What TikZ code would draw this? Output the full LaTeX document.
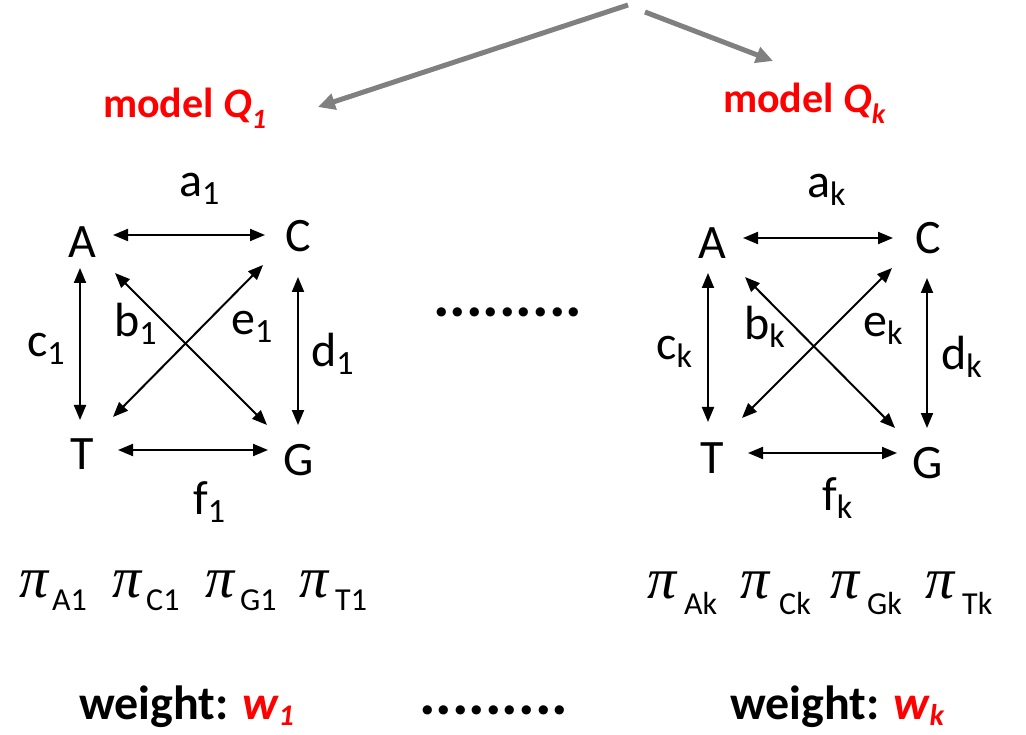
\documentclass[tikz,border=0pt]{standalone}
\usepackage{fontspec}
\setmainfont{Carlito}
\newfontfamily\pifont{Liberation Serif}
\usetikzlibrary{arrows.meta}
\definecolor{arrgray}{RGB}{128,128,128}
\definecolor{mred}{RGB}{255,0,0}
\newcommand\lsub[2][8pt]{\raisebox{-#1}{\fontsize{34}{34}\selectfont #2}}
\begin{document}
\begin{tikzpicture}[x=1pt,y=-1pt,
  letter/.style={inner sep=0pt,font=\fontsize{48}{48}\selectfont},
  lbl/.style={inner sep=0pt,anchor=base west,font=\fontsize{48}{48}\selectfont},
  arr/.style={line width=2pt,{Triangle[length=15pt,width=12pt]}-{Triangle[length=15pt,width=12pt]}},
  garr/.style={line width=5pt,draw=arrgray,-{Triangle[length=17pt,width=16pt]}},
  model/.style={inner sep=0pt,anchor=base west,text=mred,font=\fontsize{42}{42}\selectfont\bfseries},
  pis/.style={inner sep=0pt,anchor=base west,font=\fontsize{58}{58}\pifont\itshape},
  pisub/.style={inner sep=0pt,anchor=base west,font=\fontsize{32}{32}\selectfont},
  wt/.style={inner sep=0pt,anchor=base west,font=\fontsize{48}{48}\selectfont\bfseries},
  dots/.style={inner sep=0pt,anchor=base west,font=\fontsize{62}{62}\selectfont\bfseries}]
\fill[white] (0,0) rectangle (1026,735);
\useasboundingbox (0,0) rectangle (1026,735);

% top arrows
\coordinate (src1) at (628,5);
\coordinate (dst1) at (318,107);
\coordinate (src2) at (645,12);
\coordinate (dst2) at (773,61);
\draw[garr] (src1) -- (dst1);
\draw[garr] (src2) -- (dst2);

% model labels
\node[model] (m1) at (103,118) {model {\itshape Q\raisebox{-11pt}{\fontsize{28}{28}\selectfont 1}}};
\node[model] (mk) at (723,113) {model {\itshape Q\raisebox{-11pt}{\fontsize{28}{28}\selectfont k}}};

% left diagram
\node[letter] (A1) at (82,242) {A};
\node[letter] (C1) at (298,236) {C};
\node[letter] (T1) at (82,454) {T};
\node[letter] (G1) at (299,460) {G};
\draw[arr] ([shift={(31,-7)}]A1.center) -- ([shift={(-33,-1)}]C1.center);
\draw[arr] ([shift={(36,-4)}]T1.center) -- ([shift={(-31,-10)}]G1.center);
\draw[arr] ([shift={(-2,26)}]A1.center) -- ([shift={(-2,-34)}]T1.center);
\draw[arr] ([shift={(0,41)}]C1.center) -- ([shift={(-1,-35)}]G1.center);
\draw[arr] ([shift={(33,31)}]A1.center) -- ([shift={(-32,-35)}]G1.center);
\draw[arr] ([shift={(31,-37)}]T1.center) -- ([shift={(-35,29)}]C1.center);
\node[lbl] (la1) at (179,197) {a\lsub{1}};
\node[lbl] (lc1) at (27,357) {c\lsub{1}};
\node[lbl] (lb1) at (114,337) {b\lsub{1}};
\node[lbl] (le1) at (231,335) {e\lsub{1}};
\node[lbl] (ld1) at (311,367) {d\lsub{1}};
\node[lbl] (lf1) at (193,514) {f\lsub{1}};

% right diagram
\node[letter] (Ak) at (712,243) {A};
\node[letter] (Ck) at (928,238) {C};
\node[letter] (Tk) at (712,458) {T};
\node[letter] (Gk) at (928,463) {G};
\draw[arr] ([shift={(31,-5)}]Ak.center) -- ([shift={(-35,0)}]Ck.center);
\draw[arr] ([shift={(36,-5)}]Tk.center) -- ([shift={(-31,-10)}]Gk.center);
\draw[arr] ([shift={(-4,30)}]Ak.center) -- ([shift={(-4,-36)}]Tk.center);
\draw[arr] ([shift={(-1,40)}]Ck.center) -- ([shift={(-1,-35)}]Gk.center);
\draw[arr] ([shift={(33,34)}]Ak.center) -- ([shift={(-33,-35)}]Gk.center);
\draw[arr] ([shift={(30,-40)}]Tk.center) -- ([shift={(-36,30)}]Ck.center);
\node[lbl] (lak) at (807,198) {a\lsub{k}};
\node[lbl] (lck) at (656,360) {c\lsub{k}};
\node[lbl] (lbk) at (744,340) {b\lsub{k}};
\node[lbl] (lek) at (863,337) {e\lsub{k}};
\node[lbl] (ldk) at (941,370) {d\lsub{k}};
\node[lbl] (lfk) at (822,510) {f\lsub{k}};

% middle dots
\node[dots] (dm) at (433,317) {.........};

% pi rows
\node[pis] (p1) at (19,597) {π};
\node[pisub] (q1) at (52,610) {A1};
\node[pis] (p2) at (112,597) {π};
\node[pisub] (q2) at (146,610) {C1};
\node[pis] (p3) at (205,597) {π};
\node[pisub] (q3) at (240,610) {G1};
\node[pis] (p4) at (299,597) {π};
\node[pisub] (q4) at (335,610) {T1};

\node[pis] (p5) at (647,598) {π};
\node[pisub] (q5) at (684,614) {Ak};
\node[pis] (p6) at (740,598) {π};
\node[pisub] (q6) at (779,614) {Ck};
\node[pis] (p7) at (830,598) {π};
\node[pisub] (q7) at (867,614) {Gk};
\node[pis] (p8) at (925,598) {π};
\node[pisub] (q8) at (962,614) {Tk};

% weights
\node[wt] (w1) at (79,719) {weight: \textcolor{mred}{\itshape w\raisebox{-6pt}{\fontsize{30}{30}\selectfont 1}}};
\node[dots] (db) at (419,714) {.........};
\node[wt] (wk) at (730,719) {weight: \textcolor{mred}{\itshape w\raisebox{-6pt}{\fontsize{30}{30}\selectfont k}}};
\end{tikzpicture}
\end{document}
